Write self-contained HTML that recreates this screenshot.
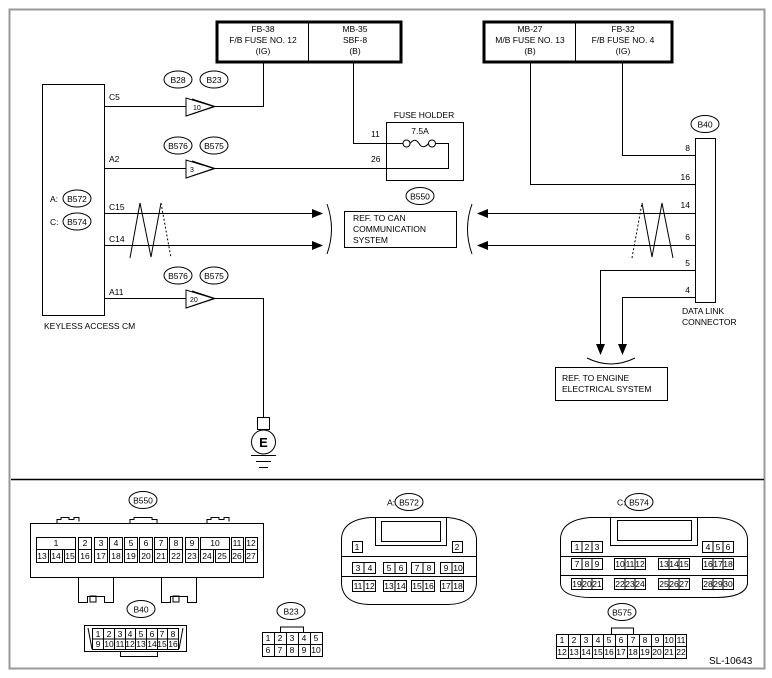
<!DOCTYPE html>
<html><head><meta charset="utf-8"><style>
html,body{margin:0;padding:0;background:#fff;}
svg{display:block;font-family:"Liberation Sans",sans-serif;}
text{font-size:8.5px;fill:#000;}
.s{font-size:7px;}
</style></head><body>
<svg width="772" height="678" viewBox="0 0 772 678" xmlns="http://www.w3.org/2000/svg">
<g fill="none" stroke="#000" stroke-width="1">
<!-- frame -->
<rect x="9.5" y="9.5" width="755" height="659" stroke="#999" stroke-width="2"/>
<line x1="11" y1="479.5" x2="764" y2="479.5" stroke-width="1.5"/>
<!-- fuse boxes -->
<rect x="217" y="22" width="184" height="40" stroke-width="3"/>
<line x1="308.5" y1="22" x2="308.5" y2="62"/>
<rect x="484" y="22" width="188" height="40" stroke-width="3"/>
<line x1="575.5" y1="22" x2="575.5" y2="62"/>
<!-- keyless CM -->
<rect x="42.5" y="84.5" width="62" height="231"/>
<!-- C5 -->
<polyline points="104.5,106.5 186,106.5"/>
<polygon points="186,98 186,116 214,106.5"/>
<polyline points="192,99 215,106.5 192,114"/>
<polyline points="214,106.5 263.5,106.5 263.5,62"/>
<!-- A2 -->
<polyline points="104.5,168.5 186,168.5"/>
<polygon points="186,160 186,178 214,168.5"/>
<polyline points="192,161 215,168.5 192,176"/>
<polyline points="214,168.5 448.5,168.5 448.5,143.5 436,143.5"/>
<polyline points="353.5,62 353.5,143.5 403,143.5"/>
<circle cx="406.5" cy="143.5" r="3.5"/>
<circle cx="432" cy="143.5" r="3.5"/>
<path d="M410,143.5 Q415,137 419,143.5 T428.5,143.5"/>
<rect x="386.5" y="122.5" width="77" height="58"/>
<!-- A11 -->
<polyline points="104.5,298.5 186,298.5"/>
<polygon points="186,290 186,308 214,298.5"/>
<polyline points="192,291 215,298.5 192,306"/>
<polyline points="214,298.5 263.5,298.5 263.5,418"/>
<rect x="257.5" y="417.5" width="12" height="12"/>
<circle cx="263.5" cy="442" r="12"/>
<line x1="251" y1="455.5" x2="276" y2="455.5"/>
<line x1="256" y1="461.5" x2="271" y2="461.5"/>
<line x1="259" y1="467.5" x2="268" y2="467.5"/>
<!-- CAN lines left -->
<line x1="104.5" y1="213.5" x2="312" y2="213.5"/>
<line x1="104.5" y1="245.5" x2="312" y2="245.5"/>
<polyline points="130,258 140,203 151,257 161,203"/>
<line x1="161" y1="203" x2="171" y2="258" stroke-dasharray="2,2"/>
<path d="M327,204 Q336,229 327,254"/>
<rect x="344.5" y="211.5" width="112" height="36"/>
<path d="M472,204 Q463,229 472,254"/>
<!-- right side -->
<rect x="695.5" y="138.5" width="20" height="164"/>
<line x1="488" y1="213.5" x2="695.5" y2="213.5"/>
<line x1="488" y1="245.5" x2="695.5" y2="245.5"/>
<line x1="632" y1="258" x2="642" y2="203" stroke-dasharray="2,2"/>
<polyline points="642,203 652,257 662,203 673,258"/>
<polyline points="622.5,62 622.5,155.5 695.5,155.5"/>
<polyline points="530.5,62 530.5,184.5 695.5,184.5"/>
<polyline points="695.5,270.5 600.5,270.5 600.5,345"/>
<polyline points="695.5,297.5 622.5,297.5 622.5,345"/>
<path d="M587,358 Q611,370 635,358"/>
<rect x="555.5" y="367.5" width="112" height="33"/>
<!-- bubbles -->
<ellipse cx="178" cy="79.5" rx="14" ry="8.5"/>
<ellipse cx="214" cy="79.5" rx="14" ry="8.5"/>
<ellipse cx="178" cy="145.5" rx="14" ry="8.5"/>
<ellipse cx="214" cy="145.5" rx="14" ry="8.5"/>
<ellipse cx="178" cy="275.5" rx="14" ry="8.5"/>
<ellipse cx="214" cy="275.5" rx="14" ry="8.5"/>
<ellipse cx="77" cy="198.5" rx="14" ry="8.5"/>
<ellipse cx="77" cy="221.5" rx="14" ry="8.5"/>
<ellipse cx="420" cy="196" rx="14" ry="8.5"/>
<ellipse cx="705" cy="124" rx="14" ry="8.5"/>
<ellipse cx="143" cy="500" rx="14" ry="8.5"/>
<ellipse cx="141" cy="609" rx="14" ry="8.5"/>
<ellipse cx="291" cy="611" rx="14" ry="8.5"/>
<ellipse cx="409" cy="502" rx="14" ry="8.5"/>
<ellipse cx="639" cy="502" rx="14" ry="8.5"/>
<ellipse cx="622" cy="612" rx="14" ry="8.5"/>
</g>
<g fill="#000">
<polygon points="312,209 323,213.5 312,218"/>
<polygon points="312,241 323,245.5 312,250"/>
<polygon points="488,209 477,213.5 488,218"/>
<polygon points="488,241 477,245.5 488,250"/>
<polygon points="596,344 605,344 600.5,355"/>
<polygon points="618,344 627,344 622.5,355"/>
</g>
<!-- top labels -->
<g text-anchor="middle">
<text x="263" y="32">FB-38</text><text x="263" y="43">F/B FUSE NO. 12</text><text x="263" y="54">(IG)</text>
<text x="355" y="32">MB-35</text><text x="355" y="43">SBF-8</text><text x="355" y="54">(B)</text>
<text x="530" y="32">MB-27</text><text x="530" y="43">M/B FUSE NO. 13</text><text x="530" y="54">(B)</text>
<text x="623" y="32">FB-32</text><text x="623" y="43">F/B FUSE NO. 4</text><text x="623" y="54">(IG)</text>
<text x="178" y="83">B28</text><text x="214" y="83">B23</text>
<text x="178" y="149">B576</text><text x="214" y="149">B575</text>
<text x="178" y="279">B576</text><text x="214" y="279">B575</text>
<text x="77" y="202">B572</text><text x="77" y="225">B574</text>
<text x="420" y="199.5">B550</text><text x="705" y="127.5">B40</text>
<text x="424" y="118">FUSE HOLDER</text><text x="420" y="134">7.5A</text>
<text x="263.5" y="447" style="font-size:13px;font-weight:bold">E</text>
</g>
<text x="193" y="110" class="s">10</text>
<text x="190" y="172" class="s">3</text>
<text x="190" y="302" class="s">20</text>
<text x="109" y="100">C5</text><text x="109" y="162">A2</text>
<text x="109" y="210">C15</text><text x="109" y="242">C14</text>
<text x="109" y="295">A11</text>
<text x="50" y="202">A:</text><text x="50" y="225">C:</text>
<text x="44" y="329">KEYLESS ACCESS CM</text>
<text x="371" y="137">11</text><text x="371" y="162">26</text>
<text x="353" y="221">REF. TO CAN</text><text x="353" y="232">COMMUNICATION</text><text x="353" y="243">SYSTEM</text>
<g text-anchor="end"><text x="690" y="151">8</text><text x="690" y="180">16</text><text x="690" y="208">14</text><text x="690" y="240">6</text><text x="690" y="266">5</text><text x="690" y="293">4</text></g>
<text x="682" y="314">DATA LINK</text><text x="682" y="325">CONNECTOR</text>
<text x="562" y="381">REF. TO ENGINE</text><text x="562" y="392">ELECTRICAL SYSTEM</text>

<!-- bottom connectors -->
<g fill="none" stroke="#000" stroke-width="1">
<!-- B550 -->
<rect x="30.5" y="523.5" width="233" height="54"/>
<path d="M57,523.5 v-4 h4 v-2 h8 v2 h5 v-2 h5 v4 M130,523.5 v-4 h4 v-2 h18 v2 h5 v4 M207,523.5 v-4 h4 v-2 h8 v2 h5 v-2 h5 v4"/>
<path d="M78.5,577.5 v25 h9 v-6 h17 v6 h9 v-25 M161.5,577.5 v25 h9 v-6 h17 v6 h9 v-25"/>
<rect x="90" y="596" width="6" height="6"/><rect x="173" y="596" width="6" height="6"/>
<rect x="36.5" y="537.5" width="39" height="12"/>
<rect x="78.5" y="537.5" width="13" height="12"/><rect x="94.5" y="537.5" width="13" height="12"/><rect x="109.5" y="537.5" width="13" height="12"/><rect x="124.5" y="537.5" width="13" height="12"/><rect x="139.5" y="537.5" width="13" height="12"/><rect x="154.5" y="537.5" width="13" height="12"/><rect x="169.5" y="537.5" width="13" height="12"/><rect x="185.5" y="537.5" width="13" height="12"/>
<rect x="200.5" y="537.5" width="29" height="12"/><rect x="231.5" y="537.5" width="12" height="12"/><rect x="245.5" y="537.5" width="12" height="12"/>
<rect x="36.5" y="549.5" width="12" height="13"/><rect x="50.5" y="549.5" width="12" height="13"/><rect x="64.5" y="549.5" width="11" height="13"/>
<rect x="78.5" y="549.5" width="13" height="13"/><rect x="94.5" y="549.5" width="13" height="13"/><rect x="109.5" y="549.5" width="13" height="13"/><rect x="124.5" y="549.5" width="13" height="13"/><rect x="139.5" y="549.5" width="13" height="13"/><rect x="154.5" y="549.5" width="13" height="13"/><rect x="169.5" y="549.5" width="13" height="13"/><rect x="185.5" y="549.5" width="13" height="13"/>
<rect x="200.5" y="549.5" width="13" height="13"/><rect x="215.5" y="549.5" width="14" height="13"/><rect x="231.5" y="549.5" width="12" height="13"/><rect x="245.5" y="549.5" width="12" height="13"/>
<!-- B40 -->
<rect x="84.5" y="625.5" width="102" height="26"/>
<path d="M88,628 L92,649 M183,628 L179,649"/>
<rect x="92.5" y="628.5" width="86" height="21"/>
<path d="M92.5,639 h86 M103.5,628.5 v21 M114.5,628.5 v21 M125.5,628.5 v21 M135.5,628.5 v21 M146.5,628.5 v21 M157.5,628.5 v21 M167.5,628.5 v21"/>
<rect x="120.5" y="651.5" width="37" height="5"/>
<!-- B23 -->
<path d="M280.5,632 v-5 h23 v5"/>
<rect x="262.5" y="632.5" width="60" height="24"/>
<path d="M262.5,644.5 h60 M274.5,632.5 v24 M286.5,632.5 v24 M298.5,632.5 v24 M310.5,632.5 v24"/>
<!-- B572 -->
<path d="M341.5,538 Q343,520 370,517.5 H448 Q474,520 476.5,538 V584 Q474,604 448,604.5 H370 Q343,604 341.5,584 Z"/>
<path d="M375.5,517.5 V545.5 H446.5 V517.5"/><rect x="381.5" y="521.5" width="59" height="20"/>
<line x1="341.5" y1="556.5" x2="476.5" y2="556.5"/><line x1="341.5" y1="576.5" x2="476.5" y2="576.5"/>
<rect x="352.5" y="541.5" width="10" height="11"/><rect x="452.5" y="541.5" width="10" height="11"/>
<rect x="352.5" y="562.5" width="23" height="11"/><rect x="383.5" y="562.5" width="23" height="11"/><rect x="411.5" y="562.5" width="23" height="11"/><rect x="440.5" y="562.5" width="23" height="11"/>
<rect x="352.5" y="580.5" width="23" height="11"/><rect x="383.5" y="580.5" width="23" height="11"/><rect x="411.5" y="580.5" width="23" height="11"/><rect x="440.5" y="580.5" width="23" height="11"/>
<path d="M364,562.5 v11 M395,562.5 v11 M423,562.5 v11 M452,562.5 v11 M364,580.5 v11 M395,580.5 v11 M423,580.5 v11 M452,580.5 v11"/>
<!-- B574 -->
<path d="M560.5,538 Q562,520 590,517.5 H717 Q745,520 747.5,538 V584 Q745,597 717,597.5 H590 Q562,597 560.5,584 Z"/>
<path d="M610.5,517.5 V545.5 H697.5 V517.5"/><rect x="617.5" y="520.5" width="74" height="20"/>
<line x1="560.5" y1="556.5" x2="747.5" y2="556.5"/><line x1="560.5" y1="575.5" x2="747.5" y2="575.5"/>
<rect x="571.5" y="541.5" width="31" height="11"/><rect x="702.5" y="541.5" width="31" height="11"/>
<rect x="571.5" y="558.5" width="31" height="11"/><rect x="614.5" y="558.5" width="31" height="11"/><rect x="658.5" y="558.5" width="31" height="11"/><rect x="702.5" y="558.5" width="31" height="11"/>
<rect x="571.5" y="578.5" width="31" height="11"/><rect x="614.5" y="578.5" width="31" height="11"/><rect x="658.5" y="578.5" width="31" height="11"/><rect x="702.5" y="578.5" width="31" height="11"/>
<path d="M582,541.5 v11 M592,541.5 v11 M713,541.5 v11 M723,541.5 v11 M582,558.5 v11 M592,558.5 v11 M625,558.5 v11 M635,558.5 v11 M669,558.5 v11 M679,558.5 v11 M713,558.5 v11 M723,558.5 v11 M582,578.5 v11 M592,578.5 v11 M625,578.5 v11 M635,578.5 v11 M669,578.5 v11 M679,578.5 v11 M713,578.5 v11 M723,578.5 v11"/>
<!-- B575 -->
<path d="M611.5,634 v-6 h22 v6"/>
<rect x="556.5" y="634.5" width="130" height="24"/>
<path d="M556.5,646.5 h130 M568.5,634.5 v24 M580.5,634.5 v24 M592.5,634.5 v24 M603.5,634.5 v24 M615.5,634.5 v24 M627.5,634.5 v24 M639.5,634.5 v24 M651.5,634.5 v24 M663.5,634.5 v24 M675.5,634.5 v24"/>
</g>
<g text-anchor="middle" class="s">
<text x="143" y="503.5" style="font-size:8.5px">B550</text><text x="141" y="612.5" style="font-size:8.5px">B40</text><text x="291" y="614.5" style="font-size:8.5px">B23</text>
<text x="409" y="505.5" style="font-size:8.5px">B572</text><text x="639" y="505.5" style="font-size:8.5px">B574</text><text x="622" y="615.5" style="font-size:8.5px">B575</text>
<text x="56" y="546">1</text><text x="85" y="546">2</text><text x="101" y="546">3</text><text x="116" y="546">4</text><text x="131" y="546">5</text><text x="146" y="546">6</text><text x="161" y="546">7</text><text x="176" y="546">8</text><text x="192" y="546">9</text><text x="215" y="546">10</text><text x="237" y="546">11</text><text x="251" y="546">12</text>
<text x="42" y="559">13</text><text x="56" y="559">14</text><text x="70" y="559">15</text><text x="85" y="559">16</text><text x="101" y="559">17</text><text x="116" y="559">18</text><text x="131" y="559">19</text><text x="146" y="559">20</text><text x="161" y="559">21</text><text x="176" y="559">22</text><text x="192" y="559">23</text><text x="207" y="559">24</text><text x="222" y="559">25</text><text x="237" y="559">26</text><text x="251" y="559">27</text>
<text x="98" y="637">1</text><text x="109" y="637">2</text><text x="120" y="637">3</text><text x="130" y="637">4</text><text x="141" y="637">5</text><text x="152" y="637">6</text><text x="162" y="637">7</text><text x="173" y="637">8</text>
<text x="98" y="647">9</text><text x="109" y="647">10</text><text x="120" y="647">11</text><text x="130" y="647">12</text><text x="141" y="647">13</text><text x="152" y="647">14</text><text x="162" y="647">15</text><text x="173" y="647">16</text>
<text x="268" y="641">1</text><text x="280" y="641">2</text><text x="292" y="641">3</text><text x="304" y="641">4</text><text x="316" y="641">5</text>
<text x="268" y="653">6</text><text x="280" y="653">7</text><text x="292" y="653">8</text><text x="304" y="653">9</text><text x="316" y="653">10</text>
<text x="357" y="550">1</text><text x="457" y="550">2</text>
<text x="358" y="571">3</text><text x="370" y="571">4</text><text x="389" y="571">5</text><text x="401" y="571">6</text><text x="417" y="571">7</text><text x="429" y="571">8</text><text x="446" y="571">9</text><text x="458" y="571">10</text>
<text x="358" y="589">11</text><text x="370" y="589">12</text><text x="389" y="589">13</text><text x="401" y="589">14</text><text x="417" y="589">15</text><text x="429" y="589">16</text><text x="446" y="589">17</text><text x="458" y="589">18</text>
<text x="577" y="550">1</text><text x="587" y="550">2</text><text x="597" y="550">3</text><text x="708" y="550">4</text><text x="718" y="550">5</text><text x="728" y="550">6</text>
<text x="577" y="567">7</text><text x="587" y="567">8</text><text x="597" y="567">9</text><text x="620" y="567">10</text><text x="630" y="567">11</text><text x="640" y="567">12</text><text x="664" y="567">13</text><text x="674" y="567">14</text><text x="684" y="567">15</text><text x="708" y="567">16</text><text x="718" y="567">17</text><text x="728" y="567">18</text>
<text x="577" y="587">19</text><text x="587" y="587">20</text><text x="597" y="587">21</text><text x="620" y="587">22</text><text x="630" y="587">23</text><text x="640" y="587">24</text><text x="664" y="587">25</text><text x="674" y="587">26</text><text x="684" y="587">27</text><text x="708" y="587">28</text><text x="718" y="587">29</text><text x="728" y="587">30</text>
<text x="562" y="643">1</text><text x="574" y="643">2</text><text x="586" y="643">3</text><text x="598" y="643">4</text><text x="609" y="643">5</text><text x="621" y="643">6</text><text x="633" y="643">7</text><text x="645" y="643">8</text><text x="657" y="643">9</text><text x="669" y="643">10</text><text x="681" y="643">11</text>
<text x="562" y="655">12</text><text x="574" y="655">13</text><text x="586" y="655">14</text><text x="598" y="655">15</text><text x="609" y="655">16</text><text x="621" y="655">17</text><text x="633" y="655">18</text><text x="645" y="655">19</text><text x="657" y="655">20</text><text x="669" y="655">21</text><text x="681" y="655">22</text>
</g>
<text x="387" y="505.5">A:</text><text x="617" y="505.5">C:</text>
<text x="709" y="664" style="font-size:10px">SL-10643</text>
</svg>
</body></html>
